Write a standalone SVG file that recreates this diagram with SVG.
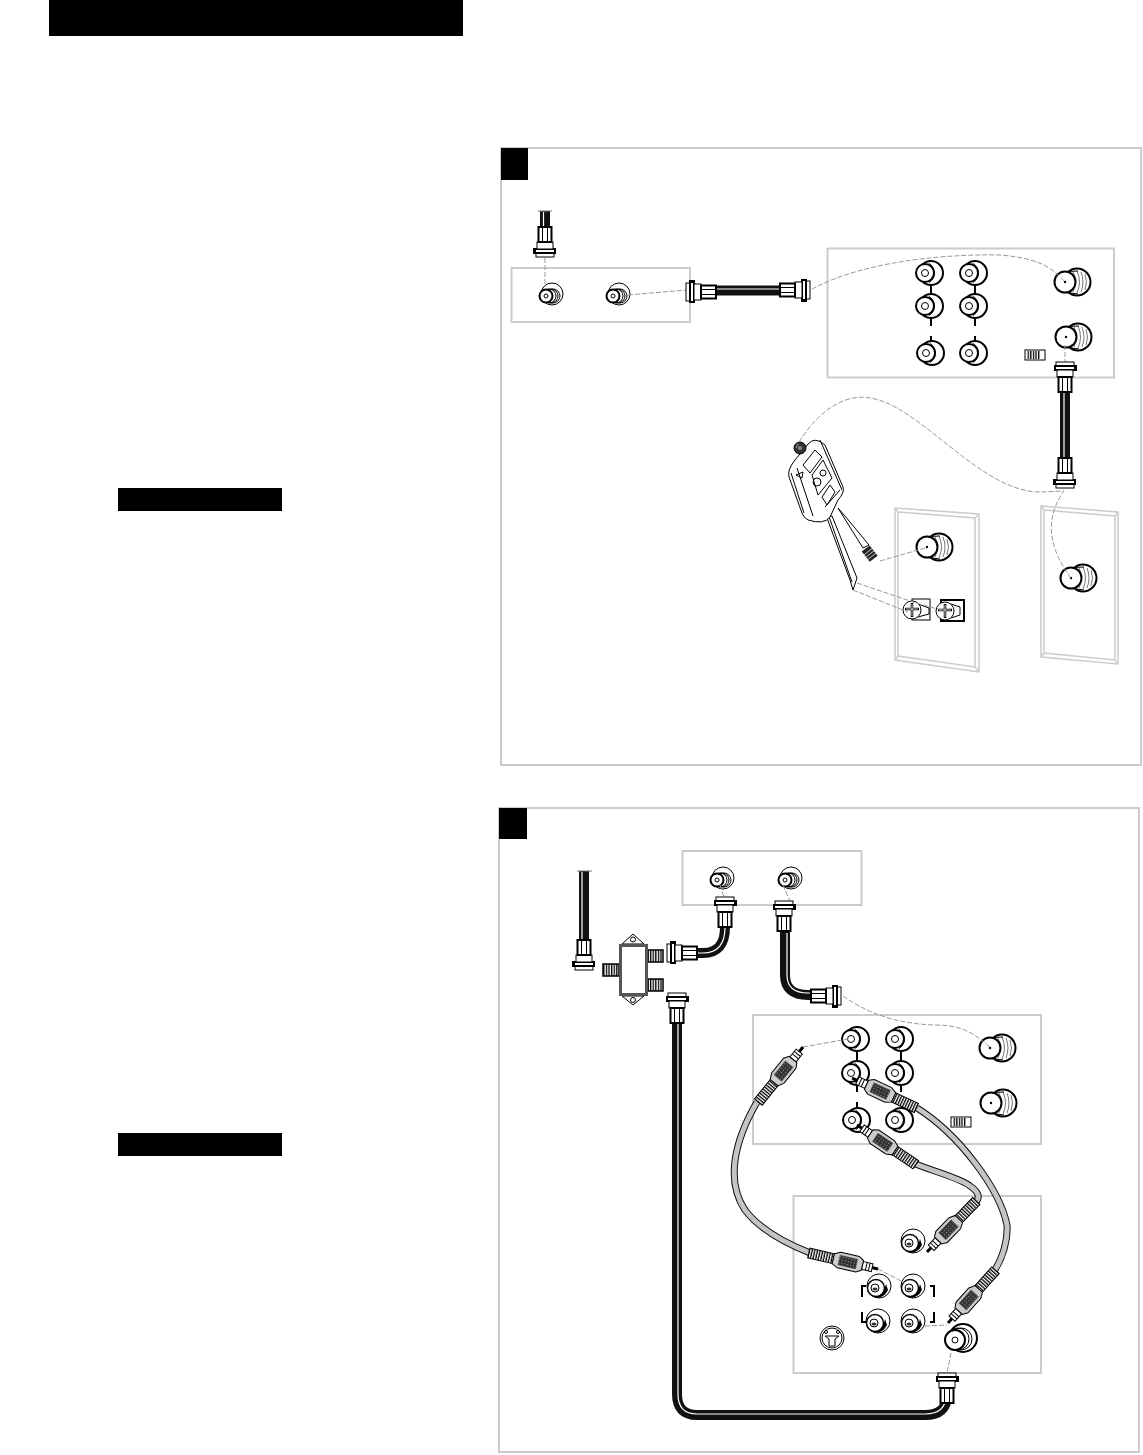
<svg xmlns="http://www.w3.org/2000/svg" width="1143" height="1455" viewBox="0 0 1143 1455">
<style>
.frame{fill:none;stroke:#ccc;stroke-width:2}
.thin{fill:none;stroke:#ccc;stroke-width:1.5}
.dash{fill:none;stroke:#999;stroke-width:1;stroke-dasharray:5 2}
.w{fill:#fff;stroke:#000;stroke-width:1}
.w2{fill:#fff;stroke:#000;stroke-width:2}
.l{fill:none;stroke:#000;stroke-width:1}
.l2{fill:none;stroke:#000;stroke-width:2}
.lg{fill:none;stroke:#555;stroke-width:.8}
.k{fill:#000}
.coax{fill:none;stroke:#111;stroke-width:10}
.coaxw{fill:none;stroke:#fff;stroke-width:1.2}
.rca{fill:none;stroke:#111;stroke-width:7}
.rcag{fill:none;stroke:#c4c4c4;stroke-width:5}
</style>
<defs>
<pattern id="st" width="2.6" height="4" patternUnits="userSpaceOnUse"><rect width="2.6" height="4" fill="#fff"/><rect width="1.3" height="4" fill="#000"/></pattern>
<pattern id="dots" width="3" height="3" patternUnits="userSpaceOnUse"><rect width="3" height="3" fill="#333"/><rect width="1" height="1" fill="#999"/></pattern>
<g id="fc">
<rect class="w" x="-9" y="0" width="18" height="4"/>
<rect class="w2" x="-10" y="4" width="20" height="4"/>
<rect class="w" x="-8" y="8" width="16" height="7"/>
<rect class="w2" x="-6.500" y="15" width="13" height="15"/>
<path class="l" d="M-2.500,15V30M2.500,15V30"/>
<rect class="k" x="9" y="3" width="3" height="6"/>
</g>
<g id="big">
<circle class="w2" cx="12" cy="0" r="13.500"/>
<path class="lg" d="M8,-10q5,10 0,20M12,-11q5,11 0,22M16,-10q4,10 0,20M20,-8q3,8 0,16"/>
<path class="l" d="M2,-10.500L13,-11M2,10.500L13,12"/>
<circle class="w2" cx="0" cy="0" r="10.500"/>
<circle class="k" r="1.200"/>
</g>
<g id="rj">
<circle class="w2" cx="6" cy="0" r="12"/>
<path class="l" d="M4,-9.500a11,11 0 0 1 0,19"/>
<circle class="w2" cx="0" cy="0" r="9"/>
<circle class="w" r="3.500"/>
</g>
<g id="cj">
<circle class="w" cx="6" cy="-2" r="11"/>
<circle class="l" cx="7" cy="0" r="7"/>
<circle class="l" cx="5" cy="0" r="7"/>
<circle class="l" cx="3" cy="0" r="7"/>
<circle class="w2" cx="0" cy="0" r="6.500"/>
<circle class="l" r="2"/>
</g>
<g id="dj">
<circle class="w" cx="1" cy="-1" r="12"/>
<path class="k" d="M-5,8Q6,9 8,-3L10,3Q6,11 -2,11Z"/>
<circle class="w" style="stroke-width:1.500" cx="-2" cy="1" r="8.500"/>
<circle class="w" cx="-3" cy="1" r="4"/>
<ellipse fill="#333" cx="-3" cy="2" rx="2.500" ry="1.500"/>
</g>
<g id="sw">
<rect class="w" x="0" y="0" width="20" height="10"/>
<rect x="2" y="1" width="13" height="8" fill="url(#st)"/>
</g>
<g id="rp">
<path class="k" d="M0,-1.500H10V1.500H0Z"/>
<rect x="6" y="-4" width="10" height="8" fill="#fff" stroke="#000"/>
<path class="l" d="M9,-4V4M12,-4V4"/>
<path fill="#ccc" stroke="#000" d="M16,-5L21,-8H40L46,-5V5L40,8H21L16,5Z"/>
<rect x="22" y="-5" width="18" height="10" fill="url(#dots)" stroke="#555" stroke-width=".5"/>
<rect x="46" y="-5" width="25" height="10" fill="url(#st)" stroke="#000"/>
</g>
<g id="screw">
<circle class="w" r="9"/>
<path d="M-7,-1H7M0,-7V7" fill="none" stroke="#000" stroke-width="2.500"/>
<path d="M-6,-1H6M0,-6V6" fill="none" stroke="#fff" stroke-width=".8"/>
</g>
</defs>

<g id="header"><rect class="k" x="49" y="0" width="414" height="36"/></g>
<g id="bar1"><rect class="k" x="118" y="488" width="164" height="23"/></g>
<g id="bar2"><rect class="k" x="118" y="1133" width="164" height="23"/></g>

<g id="step1">
<rect class="frame" x="501" y="148" width="640" height="617"/>
<rect class="k" x="501" y="148" width="27" height="32"/>
</g>
<g id="step2">
<rect class="frame" x="499" y="808" width="640" height="644"/>
<rect class="k" x="499" y="808" width="28" height="31"/>
</g>

<g id="panel-a"><rect class="frame" x="511.500" y="268" width="178.500" height="54"/>
<use href="#cj" x="546" y="296"/><use href="#cj" x="613" y="296"/></g>

<g id="panel-b"><rect class="frame" x="827.500" y="248.500" width="286.500" height="129"/>
<path class="l2" d="M931,282V297M975,282V297M931,318V326M975,318V326M931,336V342M975,336V342"/>
<use href="#rj" x="925" y="273"/><use href="#rj" x="969" y="273"/>
<use href="#rj" x="925" y="306"/><use href="#rj" x="969" y="306"/>
<use href="#rj" x="926" y="353"/><use href="#rj" x="969" y="353"/>
<use href="#big" x="1065" y="282"/><use href="#big" x="1066" y="337"/>
<use href="#sw" x="1025" y="350"/></g>

<g id="plate-1">
<path class="thin" d="M895,508L979,514V672L895,660Z"/>
<path class="thin" d="M898,512L975,518V667L898,656ZM895,508L898,512M979,514L975,518M979,672L975,667M895,660L898,656"/>
<use href="#big" x="927" y="547"/>
<rect class="w" x="912" y="599" width="18" height="21"/>
<rect class="w2" x="941" y="600" width="23" height="21"/>
<path class="l" d="M918,604L929,608V614L918,617M951,604L960,607V615L951,618"/>
<use href="#screw" x="912" y="610"/><use href="#screw" x="945" y="611"/>
</g>
<g id="plate-2">
<path class="thin" d="M1041,506L1118,512V664L1041,657Z"/>
<path class="thin" d="M1044,510L1115,516V660L1044,653ZM1041,506L1044,510M1118,512L1115,516M1118,664L1115,660M1041,657L1044,653"/>
<use href="#big" x="1071" y="578"/>
</g>

<g id="device">
<path class="w" d="M827,518L850,580L853,590L857,578L832,516Z"/>
<path class="l" d="M829.500,518L852,582"/>
<path class="w" d="M838,508L863,548L869,545L845,516Z"/>
<g transform="translate(870,554) rotate(-38)"><rect x="-5" y="-7" width="10" height="13" fill="#222"/><path stroke="#fff" stroke-width=".7" d="M-5,-3H5M-5,0H5M-5,3H5"/></g>
<path class="w" d="M795,460L808,444Q815,436 825,445L843,487Q845,492 838,500L830,517Q824,525 808,520Q803,517 802,513L789,477Q787,470 795,460Z"/>
<path class="l" d="M791,473L804,513M797,468L813,516M825,507L840,490M820,440L842,490"/>
<path class="l" d="M803,465L815,450L822,457L810,473ZM812,475L823,460L832,478L818,495ZM822,497L830,485L835,492L827,505ZM796,475L803,472L802,478Z"/>
<circle class="l" cx="823" cy="473" r="3"/><circle class="l" cx="817" cy="482" r="4"/>
<circle cx="800" cy="448" r="6" fill="#333" stroke="#000"/><circle cx="800" cy="448" r="2" fill="#888"/>
</g>

<g id="splitter">
<path class="w" d="M622,944L633,934L644,944ZM622,996L633,1005L644,996Z"/>
<circle class="w" cx="633" cy="939.500" r="2.500"/><circle class="w" cx="633" cy="1000" r="2.500"/>
<rect x="603" y="964" width="16" height="12" fill="url(#st)" stroke="#000" stroke-width="1.500"/>
<rect x="648" y="950" width="15" height="12" fill="url(#st)" stroke="#000" stroke-width="1.500"/>
<rect x="648" y="979" width="15" height="12" fill="url(#st)" stroke="#000" stroke-width="1.500"/>
<rect x="620.500" y="945.500" width="26" height="49" fill="#fff" stroke="#555" stroke-width="3"/>
</g>

<g id="panel-top2"><rect class="frame" x="682.500" y="851" width="179" height="54"/>
<use href="#cj" x="717" y="880"/><use href="#cj" x="785" y="880"/></g>

<g id="panel-c"><rect class="frame" x="753" y="1015" width="288" height="129"/>
<path class="l2" d="M857,1048V1062M901,1048V1062M857,1082V1092M901,1082V1092M857,1102V1108"/>
<use href="#rj" x="851" y="1039"/><use href="#rj" x="895" y="1039"/>
<use href="#rj" x="851" y="1073"/><use href="#rj" x="895" y="1073"/>
<use href="#rj" x="852" y="1120"/><use href="#rj" x="895" y="1120"/>
<use href="#big" x="990" y="1048"/><use href="#big" x="991" y="1103"/>
<use href="#sw" x="951" y="1117"/></g>

<g id="panel-d"><rect class="frame" x="793.500" y="1196" width="247.500" height="177"/>
<path class="l2" d="M866,1286H862V1297M862,1312V1322H866M930,1286H934V1297M934,1312V1322H930"/>
<use href="#dj" x="912" y="1242"/><use href="#dj" x="878" y="1287"/><use href="#dj" x="912" y="1287"/><use href="#dj" x="877" y="1322"/><use href="#dj" x="912" y="1322"/>
<g id="svideo"><circle class="w" cx="832" cy="1338" r="12"/><circle class="l" cx="832" cy="1338" r="10"/>
<path class="l" d="M825,1336H839L835,1339V1346H829V1339Z"/><circle class="l" cx="826" cy="1332" r="1.500"/><circle class="l" cx="838" cy="1332" r="1.500"/></g>
<g id="bigjack-d"><circle class="w2" cx="963" cy="1338" r="14"/><circle class="l" cx="961" cy="1339" r="11"/><circle class="l" cx="958" cy="1339" r="11"/><circle class="w2" cx="955" cy="1340" r="10"/><circle class="l" cx="955" cy="1340" r="3"/></g>
</g>

<g id="connectors">
<path class="dash" d="M545,258V285M628,295L686,290M812,289C870,258 960,254 1000,255C1035,258 1050,265 1065,282"/>
<path class="dash" d="M1065,345V362M796,448C810,420 840,392 870,398C920,405 980,492 1040,492L1064,491C1050,510 1042,540 1071,578"/>
<path class="dash" d="M880,561L925,548M857,583L916,603L945,611M853,590L908,612"/>
<path class="dash" d="M720,885L724,897M783,885L790,901M843,996C870,1015 900,1024 935,1025C965,1025 975,1035 990,1047"/>
<path class="dash" d="M803,1047L848,1039M878,1269L905,1283M925,1326L947,1325M951,1353L947,1373"/>

<g id="cable-a"><path class="coax" d="M545,211V228"/><path class="coaxw" d="M543.500,212V228"/><path stroke="#777" d="M538,211H552"/><use href="#fc" transform="translate(545,257) rotate(180)"/></g>
<g id="cable-b"><path class="coax" d="M715,290.500H781"/><path class="coaxw" d="M716,289H780"/><use href="#fc" transform="translate(686,292) rotate(-90)"/><use href="#fc" transform="translate(810,290) rotate(90)"/></g>
<g id="cable-c"><path class="coax" d="M1065,390V460"/><path class="coaxw" d="M1064,391V459"/><use href="#fc" transform="translate(1065,362)"/><use href="#fc" transform="translate(1065,488) rotate(180)"/></g>
<g id="cable-d"><path class="coax" d="M584,871V942"/><path class="coaxw" d="M582,872V941"/><path stroke="#777" d="M577,871H592"/><use href="#fc" transform="translate(584,970) rotate(180)"/></g>
<g id="cable-e"><path class="coax" d="M697,953H703Q725,953 725,927"/><path class="coaxw" d="M697,953H703Q725,953 725,927"/><use href="#fc" transform="translate(667,953) rotate(-90)"/><use href="#fc" transform="translate(725,897)"/></g>
<g id="cable-f"><path class="coax" d="M785,932V975Q785,995 808,995H812"/><path class="coaxw" d="M787,933V975Q787,993 808,993H812"/><use href="#fc" transform="translate(784,901)"/><use href="#fc" transform="translate(841,996) rotate(90)"/></g>
<g id="cable-g"><path class="coax" d="M677,1023V1394Q677,1415 697,1415H925Q947,1415 947,1395V1403"/><path class="coaxw" d="M678,1023V1394Q678,1414 697,1414H925Q946,1414 946,1395"/><use href="#fc" transform="translate(677,993)"/><use href="#fc" transform="translate(947,1373)"/></g>

<g id="rca-1"><path class="rca" d="M757,1102C735,1140 725,1180 745,1210C760,1230 785,1243 810,1253"/><path class="rcag" d="M757,1102C735,1140 725,1180 745,1210C760,1230 785,1243 810,1253"/>
<use href="#rp" transform="translate(803,1047) rotate(129)"/><use href="#rp" transform="translate(878,1269) rotate(193)"/></g>
<g id="rca-2"><path class="rca" d="M917,1108C960,1135 1000,1190 1007,1225C1008,1240 1003,1258 993,1273"/><path class="rcag" d="M917,1108C960,1135 1000,1190 1007,1225C1008,1240 1003,1258 993,1273"/>
<use href="#rp" transform="translate(852,1078) rotate(25)"/><use href="#rp" transform="translate(948,1323) rotate(-48)"/></g>
<g id="rca-3"><path class="rca" d="M913,1163C935,1172 960,1178 970,1186C980,1193 980,1198 975,1203"/><path class="rcag" d="M913,1163C935,1172 960,1178 970,1186C980,1193 980,1198 975,1203"/>
<use href="#rp" transform="translate(857,1125) rotate(34)"/><use href="#rp" transform="translate(927,1252) rotate(-46)"/></g>
</g>
</svg>
